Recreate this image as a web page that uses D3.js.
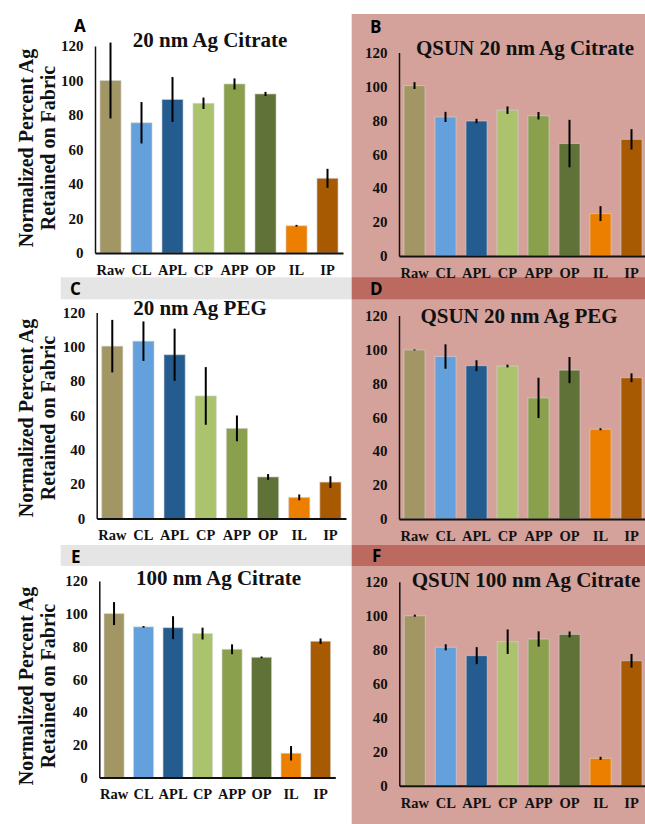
<!DOCTYPE html>
<html>
<head>
<meta charset="utf-8">
<script src="https://cdn.jsdelivr.net/npm/d3@7/dist/d3.min.js"></script>
<style>
  html, body { margin: 0; padding: 0; background: #ffffff; }
  svg { display: block; }
</style>
</head>
<body>
<svg id="chart" width="645" height="824"></svg>
<script>
// ---------- DATA ----------
const categories = ["Raw", "CL", "APL", "CP", "APP", "OP", "IL", "IP"];
const yTicks = [0, 20, 40, 60, 80, 100, 120];
const panelLetters = ["A", "B", "C", "D", "E", "F"];
const panelTitles = [
  "20 nm Ag Citrate",
  "QSUN 20 nm Ag Citrate",
  "20 nm Ag PEG",
  "QSUN 20 nm Ag PEG",
  "100 nm Ag Citrate",
  "QSUN 100 nm Ag Citrate"
];
const yLabelLines = ["Normalized Percent Ag", "Retained on Fabric"];

const valuesA = [100, 75.5, 89, 86.8, 98, 92.2, 15.8, 43.3];
const errorsA = [22, 12, 13, 3.3, 3.2, 1.2, 0.5, 5.5];
const valuesB = [100.5, 82, 79.6, 86, 82.7, 66.3, 25, 68.8];
const errorsB = [2, 3, 1.3, 2.2, 2.2, 14, 4.4, 6];
const valuesC = [100.4, 103.3, 95.4, 71.4, 52.5, 24.2, 12.3, 21.2];
const errorsC = [15.3, 11.5, 15.2, 16.8, 7.5, 1.7, 1.7, 3.4];
const valuesD = [99.7, 95.8, 90.4, 90.2, 71.4, 87.8, 52.9, 83.3];
const errorsD = [0.3, 7.2, 3.2, 0.8, 11.9, 7.7, 0.6, 2.6];
const valuesE = [100.1, 92, 91.5, 87.9, 78.3, 73.4, 14.8, 83.2];
const errorsE = [7, 0.5, 7, 3.6, 3, 0.5, 4.4, 1.7];
const valuesF = [100, 81.4, 76.5, 84.7, 86.3, 89, 16.1, 73.5];
const errorsF = [0.6, 1.8, 5, 7.2, 4.5, 1.7, 0.9, 4];

// ---------- STYLE / LAYOUT ----------
const barColors = {
  Raw: "#a39665", CL: "#63a0dc", APL: "#255c8f", CP: "#aac36c",
  APP: "#8aa04d", OP: "#607237", IL: "#ed7f00", IP: "#a85a02"
};
const serif = "'Liberation Serif', 'Times New Roman', serif";
const sans = "'Open Sans', 'Liberation Sans', Arial, sans-serif";

const panels = [
  { values: valuesA, errors: errorsA, x0: 95,   x1: 343,   yTop: 46,   yBase: 253,   titleX: 210,   titleY: 47,    letterX: 74,  letterY: 32,  ylabY: 148 },
  { values: valuesB, errors: errorsB, x0: 399,  x1: 647,   yTop: 52.5, yBase: 256,   titleX: 525,   titleY: 55,    letterX: 370, letterY: 32.5 },
  { values: valuesC, errors: errorsC, x0: 96.7, x1: 346,   yTop: 312.5,yBase: 518.5, titleX: 200,   titleY: 315,   letterX: 70,  letterY: 295, ylabY: 418 },
  { values: valuesD, errors: errorsD, x0: 399,  x1: 647,   yTop: 315.5,yBase: 519,   titleX: 519,   titleY: 323,   letterX: 370, letterY: 295 },
  { values: valuesE, errors: errorsE, x0: 99.3, x1: 335.3, yTop: 581,  yBase: 777.5, titleX: 218.5, titleY: 585,   letterX: 71,  letterY: 562.5, ylabY: 686 },
  { values: valuesF, errors: errorsF, x0: 399.3,x1: 647,   yTop: 581.7,yBase: 785.7, titleX: 526,   titleY: 586.5, letterX: 372, letterY: 562 }
];

const svg = d3.select("#chart");

// Backgrounds
svg.append("rect").attr("x", 351.7).attr("y", 14).attr("width", 645 - 351.7).attr("height", 824 - 14).attr("fill", "#d4a19b");
// strips
svg.append("rect").attr("x", 60.7).attr("y", 277.3).attr("width", 351.7 - 60.7).attr("height", 22).attr("fill", "#e5e5e5");
svg.append("rect").attr("x", 60.7).attr("y", 545).attr("width", 351.7 - 60.7).attr("height", 21).attr("fill", "#e5e5e5");
svg.append("rect").attr("x", 351.7).attr("y", 277.3).attr("width", 645 - 351.7).attr("height", 22).attr("fill", "#bc6a60");
svg.append("rect").attr("x", 351.7).attr("y", 545).attr("width", 645 - 351.7).attr("height", 21).attr("fill", "#bc6a60");

panels.forEach((p, i) => {
  const g = svg.append("g");
  const x = d3.scaleBand().domain(categories).range([p.x0, p.x1]).paddingInner(0.32).paddingOuter(0.16);
  const y = d3.scaleLinear().domain([0, 120]).range([p.yBase, p.yTop]);

  // bars
  g.selectAll("rect.bar").data(categories).enter().append("rect")
    .attr("class", "bar")
    .attr("x", d => x(d))
    .attr("width", x.bandwidth())
    .attr("y", (d, j) => y(p.values[j]))
    .attr("height", (d, j) => y(0) - y(p.values[j]))
    .attr("fill", d => barColors[d])
    .attr("stroke", "#d6d6d6")
    .attr("stroke-opacity", 0.6)
    .attr("stroke-width", 1);

  // error bars
  g.selectAll("line.err").data(categories).enter().append("line")
    .attr("class", "err")
    .attr("x1", d => x(d) + x.bandwidth() / 2)
    .attr("x2", d => x(d) + x.bandwidth() / 2)
    .attr("y1", (d, j) => y(p.values[j] + p.errors[j]))
    .attr("y2", (d, j) => y(Math.max(0, p.values[j] - p.errors[j])))
    .attr("stroke", "#000")
    .attr("stroke-width", 2);

  // y axis
  const ya = g.append("g").attr("transform", `translate(${p.x0},0)`)
    .call(d3.axisLeft(y).tickValues(yTicks).tickSize(0).tickSizeOuter(0).tickPadding(11.5));
  ya.attr("font-family", serif).attr("font-size", 15).attr("font-weight", "bold");
  ya.select(".domain").attr("stroke", "#111").attr("stroke-width", 1.5);
  ya.selectAll("text").attr("font-family", serif).attr("font-weight", "bold").attr("font-size", 15).attr("fill", "#111");

  // x axis
  const xa = g.append("g").attr("transform", `translate(0,${p.yBase})`)
    .call(d3.axisBottom(x).tickSize(0).tickSizeOuter(0).tickPadding(11.7));
  xa.attr("font-family", serif).attr("font-size", 14.5).attr("font-weight", "bold");
  xa.select(".domain").attr("stroke", "#111").attr("stroke-width", 2);
  xa.selectAll("text").attr("font-family", serif).attr("font-weight", "bold").attr("font-size", 14.5).attr("fill", "#111");

  // title
  g.append("text").attr("x", p.titleX).attr("y", p.titleY)
    .attr("text-anchor", "middle")
    .attr("font-family", serif).attr("font-weight", "bold").attr("font-size", 21).attr("fill", "#111")
    .text(panelTitles[i]);

  // panel letter
  g.append("text").attr("x", p.letterX).attr("y", p.letterY)
    .attr("font-family", sans).attr("font-weight", "bold").attr("font-size", 17).attr("fill", "#000")
    .text(panelLetters[i]);

  // y label (left column only)
  if (p.ylabY !== undefined) {
    [33, 55].forEach((bx, k) => {
      g.append("text")
        .attr("transform", `translate(${bx},${p.ylabY}) rotate(-90)`)
        .attr("text-anchor", "middle")
        .attr("font-family", serif).attr("font-weight", "bold").attr("font-size", 20).attr("fill", "#111")
        .text(yLabelLines[k]);
    });
  }
});
</script>
</body>
</html>
